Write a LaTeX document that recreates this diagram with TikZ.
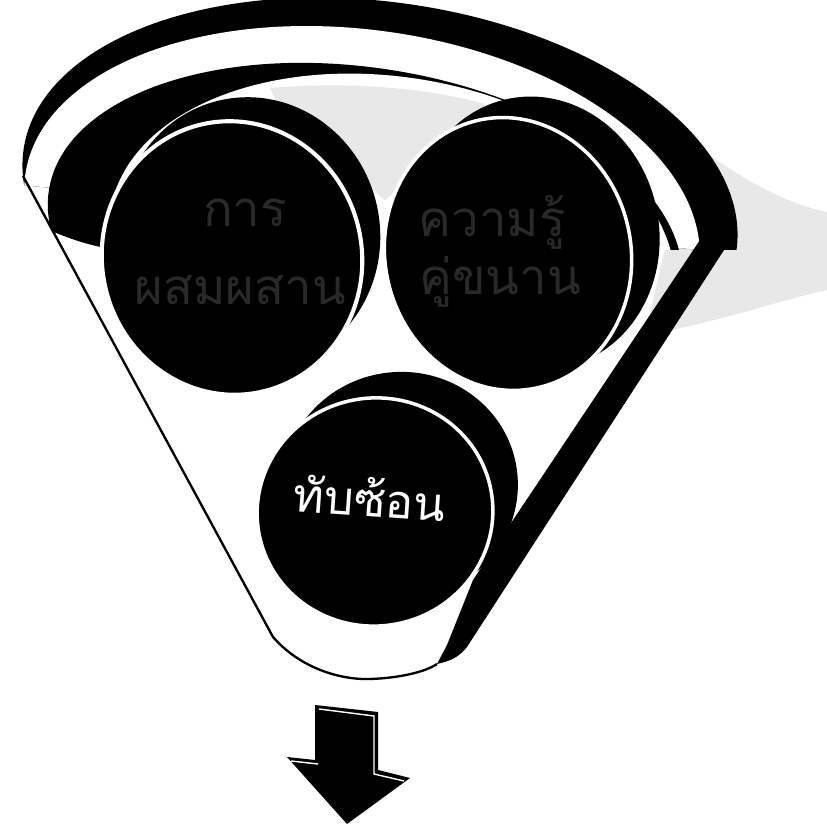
\documentclass[tikz,border=0pt]{standalone}
\usepackage{fontspec}
\newfontfamily\thaifont[Script=Thai]{Loma}
\begin{document}
\begin{tikzpicture}[x=0.03cm,y=-0.03cm,
  ink/.style={fill=black},
  discfront/.style={fill=black,draw=white,line width=3pt},
  discback/.style={fill=black},
  shade/.style={fill=black!9},
  outline/.style={draw=black,line width=2pt,line join=round},
  toptext/.style={text=black!84,font=\thaifont\fontsize{42}{48}\selectfont,inner sep=0pt},
  bottext/.style={text=white,font=\thaifont\fontsize{40}{46}\selectfont,inner sep=0pt}]
\useasboundingbox (0,0) rectangle (827,825);
\fill[white] (0,0) rectangle (827,825);
% shadow on the right
\fill[shade] (690,140) .. controls (740,180) and (790,205) .. (827,212) -- (827,290)
  .. controls (780,300) and (720,322) .. (645,335) -- cycle;
% outer ring
\begin{scope}
  \clip (-10,-10) -- (840,-10) -- (840,250) -- (700,250) -- (-10,182) -- cycle;
  \fill[black,rotate around={-8:(380,200)}] (380,200) ellipse [x radius=360, y radius=198];
  \fill[white,rotate around={-8:(362,222)}] (362,222) ellipse [x radius=340, y radius=192];
\end{scope}
% inner ring
\begin{scope}
  \clip (-10,-10) -- (840,-10) -- (840,250) -- (120,250)
    .. controls (80,246) and (40,228) .. (-10,200) -- cycle;
  \fill[black,rotate around={-9:(365,240)}] (365,240) ellipse [x radius=320, y radius=172];
  \fill[white,rotate around={-9:(392,255)}] (392,255) ellipse [x radius=285, y radius=178];
\end{scope}
% shading between the discs
\fill[shade] (270,88) .. controls (340,82) and (420,86) .. (485,104) -- (480,120) -- (385,200) -- (280,110) -- cycle;
% funnel outline
\coordinate (fl) at (23,176);
\coordinate (fb) at (273,637);
\coordinate (tip) at (437,664);
\draw[outline] (fl) -- (fb) .. controls (300,668) and (340,680) .. (370,679)
  .. controls (400,678) and (425,672) .. (tip);
% right band
\fill[ink] (737,230) -- (467,647) .. controls (458,658) and (450,661) .. (tip)
  -- (447,645) -- (473,580) -- (700,240) -- cycle;
% bottom disc
\fill[discback,rotate around={10:(400,486)}] (400,486) ellipse [x radius=118, y radius=114];
\path[discfront,rotate around={10:(375,512)}] (375,512) ellipse [x radius=118, y radius=114];
% left disc
\fill[discback,rotate around={11:(250,234)}] (250,234) ellipse [x radius=130, y radius=137];
\path[discfront,line width=3.5pt,rotate around={11:(232,258)}] (232,258) ellipse [x radius=130, y radius=137];
% right disc
\fill[discback,rotate around={12:(536,233)}] (536,233) ellipse [x radius=123, y radius=137];
\path[discfront,rotate around={12:(508,254)}] (508,254) ellipse [x radius=123, y radius=137];
% texts
\node[toptext] (l1) at (245,213) {การ};
\node[toptext] (l2) at (240,290) {ผสมผสาน};
\node[toptext] (r1) at (492,222) {ความรู้};
\node[toptext] (r2) at (500,282) {คู่ขนาน};
\node[bottext,rotate=-4] (b) at (370,497) {ทับซ้อน};
% arrow
\fill[black] (315,705) -- (378,712) -- (378,770) -- (410,778) -- (347,824) -- (287,757) -- (315,760) -- cycle;
\draw[white,line width=1.2pt] (291,761) -- (318,764);
\draw[white,line width=1.2pt] (319,709) -- (374,716) -- (374,774) -- (404,781);
\end{tikzpicture}
\end{document}
